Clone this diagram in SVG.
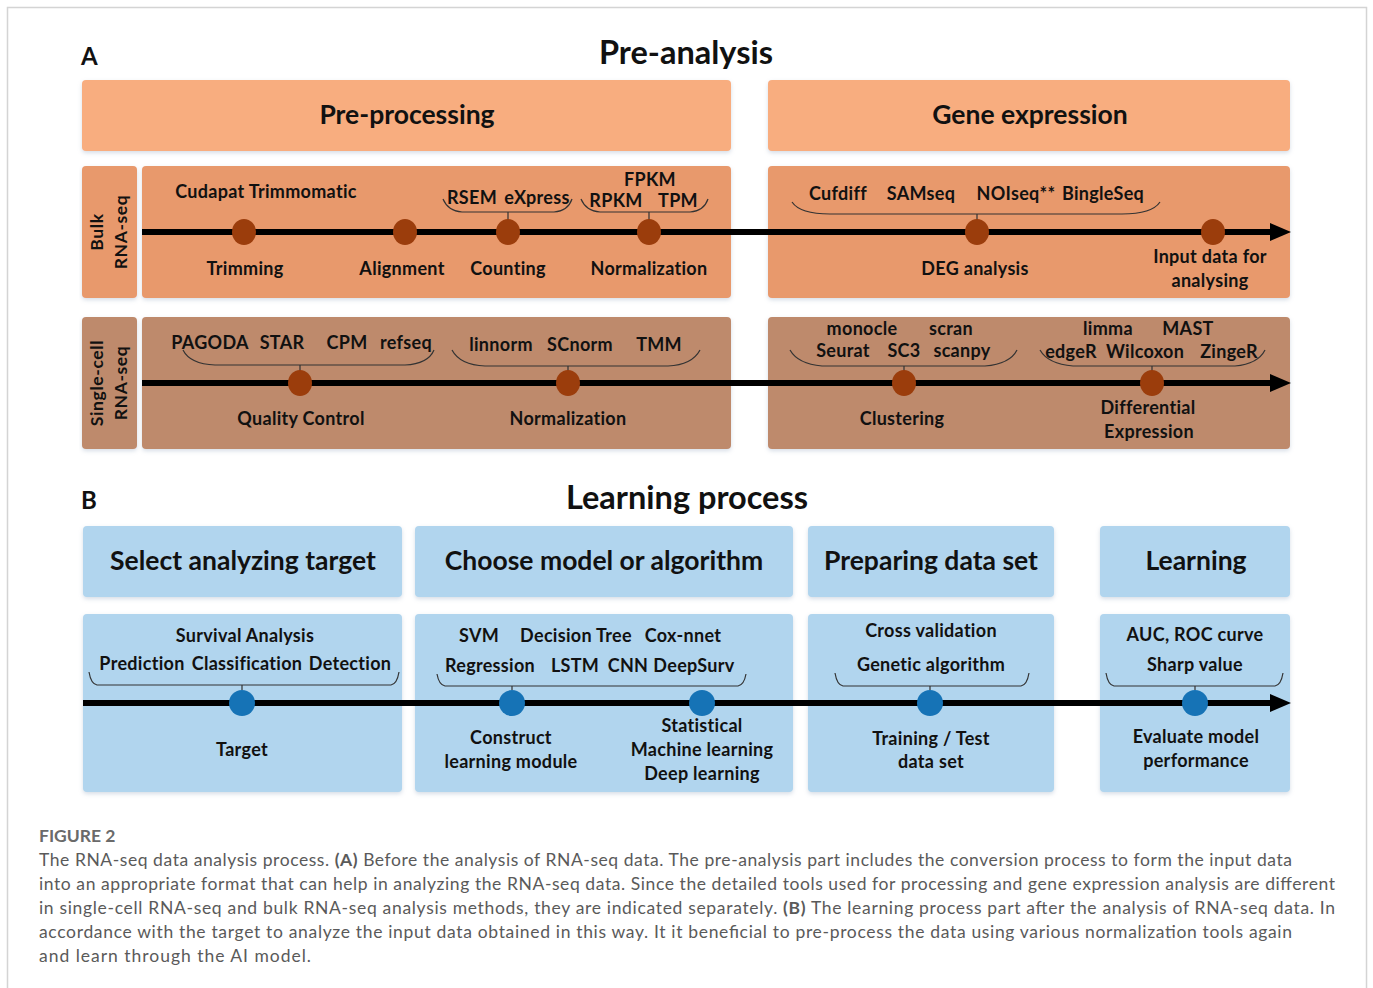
<svg xmlns="http://www.w3.org/2000/svg" width="1373" height="988" viewBox="0 0 1373 988">
<defs>
<filter id="sh" x="-5%" y="-10%" width="110%" height="125%">
<feDropShadow dx="0" dy="2" stdDeviation="2" flood-color="#8aa0b8" flood-opacity="0.35"/>
</filter>
<style>
.t{font-family:Lato,"Open Sans",sans-serif;font-weight:700;fill:#111;text-anchor:middle}
.s{font-size:18px;letter-spacing:0.3px}
.h{font-size:26.5px}
.ttl{font-size:32.5px}
.lab{font-size:24px;text-anchor:start}
.side{font-size:17.5px;letter-spacing:0.6px}
.hd{fill:#F8AD7F}
.bk{fill:#E8996C}
.sc{fill:#BE8A6C}
.bl{fill:#B1D5EE}
.ln{stroke:#000;stroke-width:6;fill:none}
.br{stroke:#333;stroke-width:1.2;fill:none}
.dr{fill:#9B3D0C}
.db{fill:#1673B6}
.cap{font-family:Lato,"Open Sans",sans-serif;font-size:17.5px;fill:#5a5a5a;font-weight:400}
</style>
</defs>
<rect x="7.5" y="7.5" width="1359" height="990" fill="#fff" stroke="#d4d4d4" stroke-width="1.5"/>

<text class="t lab" x="81" y="65">A</text>
<text class="t ttl" x="686" y="64">Pre-analysis</text>

<g id="preprocessing-header"><rect class="hd" x="82" y="80" width="649" height="71" rx="4" filter="url(#sh)"/><text class="t h" x="407" y="124">Pre-processing</text></g>
<g id="gene-expression-header"><rect class="hd" x="768" y="80" width="522" height="71" rx="4" filter="url(#sh)"/><text class="t h" x="1030" y="124">Gene expression</text></g>

<g id="bulk-label"><rect class="bk" x="82" y="166" width="55" height="132" rx="4" filter="url(#sh)"/>
<text class="t side" transform="translate(103,232) rotate(-90)">Bulk</text>
<text class="t side" transform="translate(127,232) rotate(-90)">RNA-seq</text></g>
<g id="bulk-pre"><rect class="bk" x="142" y="166" width="589" height="132" rx="4" filter="url(#sh)"/></g>
<g id="bulk-gene"><rect class="bk" x="768" y="166" width="522" height="132" rx="4" filter="url(#sh)"/></g>

<g id="sc-label"><rect class="sc" x="82" y="317" width="55" height="132" rx="4" filter="url(#sh)"/>
<text class="t side" transform="translate(103,383) rotate(-90)">Single-cell</text>
<text class="t side" transform="translate(127,383) rotate(-90)">RNA-seq</text></g>
<g id="sc-pre"><rect class="sc" x="142" y="317" width="589" height="132" rx="4" filter="url(#sh)"/></g>
<g id="sc-gene"><rect class="sc" x="768" y="317" width="522" height="132" rx="4" filter="url(#sh)"/></g>

<text class="t lab" x="81" y="509">B</text>
<text class="t ttl" x="687" y="509">Learning process</text>

<g id="b-h1"><rect class="bl" x="83" y="526" width="319" height="71" rx="4" filter="url(#sh)"/><text class="t h" x="243" y="570">Select analyzing target</text></g>
<g id="b-h2"><rect class="bl" x="415" y="526" width="378" height="71" rx="4" filter="url(#sh)"/><text class="t h" x="604" y="570">Choose model or algorithm</text></g>
<g id="b-h3"><rect class="bl" x="808" y="526" width="246" height="71" rx="4" filter="url(#sh)"/><text class="t h" x="931" y="570">Preparing data set</text></g>
<g id="b-h4"><rect class="bl" x="1100" y="526" width="190" height="71" rx="4" filter="url(#sh)"/><text class="t h" x="1196" y="570">Learning</text></g>
<g id="b-c1"><rect class="bl" x="83" y="614" width="319" height="178" rx="4" filter="url(#sh)"/></g>
<g id="b-c2"><rect class="bl" x="415" y="614" width="378" height="178" rx="4" filter="url(#sh)"/></g>
<g id="b-c3"><rect class="bl" x="808" y="614" width="246" height="178" rx="4" filter="url(#sh)"/></g>
<g id="b-c4"><rect class="bl" x="1100" y="614" width="190" height="178" rx="4" filter="url(#sh)"/></g>

<g id="connectors">
<line class="ln" x1="142" y1="232" x2="1274" y2="232"/>
<polygon points="1270,223 1291,232 1270,241" fill="#000"/>
<line class="ln" x1="142" y1="383" x2="1274" y2="383"/>
<polygon points="1270,374 1291,383 1270,392" fill="#000"/>
<line class="ln" x1="83" y1="703" x2="1274" y2="703"/>
<polygon points="1270,694 1291,703 1270,712" fill="#000"/>

<path class="br" d="M443,199 Q448,211 462,212 L554,212 Q568,211 572,199 M508,212 L508,221"/>
<path class="br" d="M581,199 Q586,211 600,212 L690,212 Q704,211 708,199 M649,212 L649,221"/>
<path class="br" d="M792,202 Q800,214 830,214 L1122,214 Q1152,214 1160,202 M977,214 L977,221"/>
<path class="br" d="M183,350 Q190,364 215,365 L405,365 Q428,364 434,350 M300,365 L300,372"/>
<path class="br" d="M452,350 Q460,365 485,366 L668,366 Q692,365 700,350 M568,366 L568,372"/>
<path class="br" d="M790,350 Q798,364 822,366 L985,366 Q1010,364 1017,350 M904,366 L904,372"/>
<path class="br" d="M1040,350 Q1048,364 1073,366 L1235,366 Q1258,364 1265,350 M1152,366 L1152,372"/>
<path class="br" d="M89,672 Q91,684 97,685 L391,685 Q397,684 399,672 M242,685 L242,690"/>
<path class="br" d="M437,674 Q439,685 445,686 L738,686 Q744,685 746,674 M512,686 L512,690"/>
<path class="br" d="M835,673 Q837,685 843,686 L1021,686 Q1027,685 1029,673 M930,686 L930,690"/>
<path class="br" d="M1106,673 Q1108,685 1114,686 L1275,686 Q1281,685 1283,673 M1195,686 L1195,690"/>
</g>

<g id="bulk-nodes">
<ellipse class="dr" cx="244" cy="232" rx="12" ry="13"/>
<ellipse class="dr" cx="405" cy="232" rx="12" ry="13"/>
<ellipse class="dr" cx="508" cy="232" rx="12" ry="13"/>
<ellipse class="dr" cx="649" cy="232" rx="12" ry="13"/>
<ellipse class="dr" cx="977" cy="232" rx="12" ry="13"/>
<ellipse class="dr" cx="1213" cy="232" rx="12" ry="13"/>
<text class="t s" x="266" y="198">Cudapat Trimmomatic</text>
<text class="t s" y="204"><tspan x="472">RSEM</tspan><tspan x="537">eXpress</tspan></text>
<text class="t s" x="650" y="186">FPKM</text>
<text class="t s" y="207"><tspan x="616">RPKM</tspan><tspan x="678">TPM</tspan></text>
<text class="t s" x="245" y="275">Trimming</text>
<text class="t s" x="402" y="275">Alignment</text>
<text class="t s" x="508" y="275">Counting</text>
<text class="t s" x="649" y="275">Normalization</text>
<text class="t s" y="200"><tspan x="838">Cufdiff</tspan><tspan x="921">SAMseq</tspan><tspan x="1016">NOIseq**</tspan><tspan x="1103">BingleSeq</tspan></text>
<text class="t s" x="975" y="275">DEG analysis</text>
<text class="t s" x="1210" y="263">Input data for</text>
<text class="t s" x="1210" y="287">analysing</text>
</g>

<g id="sc-nodes">
<ellipse class="dr" cx="300" cy="383" rx="12" ry="13"/>
<ellipse class="dr" cx="568" cy="383" rx="12" ry="13"/>
<ellipse class="dr" cx="904" cy="383" rx="12" ry="13"/>
<ellipse class="dr" cx="1152" cy="383" rx="12" ry="13"/>
<text class="t s" y="349"><tspan x="210">PAGODA</tspan><tspan x="282">STAR</tspan><tspan x="347">CPM</tspan><tspan x="406">refseq</tspan></text>
<text class="t s" y="351"><tspan x="501">linnorm</tspan><tspan x="580">SCnorm</tspan><tspan x="659">TMM</tspan></text>
<text class="t s" x="301" y="425">Quality Control</text>
<text class="t s" x="568" y="425">Normalization</text>
<text class="t s" y="335"><tspan x="862">monocle</tspan><tspan x="951">scran</tspan></text>
<text class="t s" y="357"><tspan x="843">Seurat</tspan><tspan x="904">SC3</tspan><tspan x="962">scanpy</tspan></text>
<text class="t s" y="335"><tspan x="1108">limma</tspan><tspan x="1188">MAST</tspan></text>
<text class="t s" y="358"><tspan x="1071">edgeR</tspan><tspan x="1145">Wilcoxon</tspan><tspan x="1229">ZingeR</tspan></text>
<text class="t s" x="902" y="425">Clustering</text>
<text class="t s" x="1148" y="414">Differential</text>
<text class="t s" x="1149" y="438">Expression</text>
</g>

<g id="learning-nodes">
<circle class="db" cx="242" cy="703" r="13"/>
<circle class="db" cx="512" cy="703" r="13"/>
<circle class="db" cx="702" cy="703" r="13"/>
<circle class="db" cx="930" cy="703" r="13"/>
<circle class="db" cx="1195" cy="703" r="13"/>
<text class="t s" x="245" y="642">Survival Analysis</text>
<text class="t s" y="670"><tspan x="142">Prediction</tspan><tspan x="247">Classification</tspan><tspan x="350">Detection</tspan></text>
<text class="t s" x="242" y="756">Target</text>
<text class="t s" y="642"><tspan x="479">SVM</tspan><tspan x="576">Decision Tree</tspan><tspan x="683">Cox-nnet</tspan></text>
<text class="t s" y="672"><tspan x="490">Regression</tspan><tspan x="575">LSTM</tspan><tspan x="628">CNN</tspan><tspan x="694">DeepSurv</tspan></text>
<text class="t s" x="511" y="744">Construct</text>
<text class="t s" x="511" y="768">learning module</text>
<text class="t s" x="702" y="732">Statistical</text>
<text class="t s" x="702" y="756">Machine learning</text>
<text class="t s" x="702" y="780">Deep learning</text>
<text class="t s" x="931" y="637">Cross validation</text>
<text class="t s" x="931" y="671">Genetic algorithm</text>
<text class="t s" x="931" y="745">Training / Test</text>
<text class="t s" x="931" y="768">data set</text>
<text class="t s" x="1195" y="641">AUC, ROC curve</text>
<text class="t s" x="1195" y="671">Sharp value</text>
<text class="t s" x="1196" y="743">Evaluate model</text>
<text class="t s" x="1196" y="767">performance</text>
</g>

<g id="caption">
<text class="cap" x="39" y="842" style="font-weight:700;fill:#6a6a6a">FIGURE 2</text>
<text class="cap" x="39" y="866" textLength="1253" lengthAdjust="spacing">The RNA-seq data analysis process. <tspan font-weight="700">(A)</tspan> Before the analysis of RNA-seq data. The pre-analysis part includes the conversion process to form the input data</text>
<text class="cap" x="39" y="890" textLength="1296" lengthAdjust="spacing">into an appropriate format that can help in analyzing the RNA-seq data. Since the detailed tools used for processing and gene expression analysis are different</text>
<text class="cap" x="39" y="914" textLength="1296" lengthAdjust="spacing">in single-cell RNA-seq and bulk RNA-seq analysis methods, they are indicated separately. <tspan font-weight="700">(B)</tspan> The learning process part after the analysis of RNA-seq data. In</text>
<text class="cap" x="39" y="938" textLength="1253" lengthAdjust="spacing">accordance with the target to analyze the input data obtained in this way. It it beneficial to pre-process the data using various normalization tools again</text>
<text class="cap" x="39" y="962" textLength="272" lengthAdjust="spacing">and learn through the AI model.</text>
</g>
</svg>
